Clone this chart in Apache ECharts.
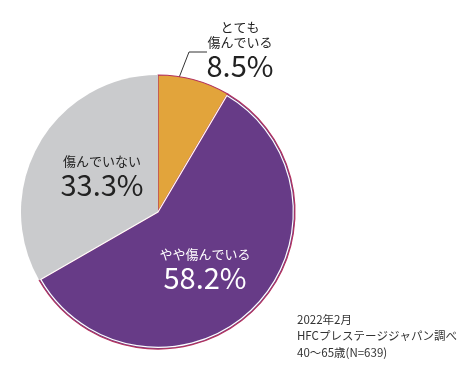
<!DOCTYPE html>
<html>
<head>
<meta charset="utf-8">
<script src="https://cdn.jsdelivr.net/npm/echarts@6/dist/echarts.min.js"></script>
<style>
html,body{margin:0;padding:0;background:#fff;}
#chart{width:465px;height:386px;}
</style>
</head>
<body>
<div id="chart"></div>
<script>
// Data
var categories = ['とても\n傷んでいる', 'やや傷んでいる', '傷んでいない'];
var values = [8.5, 58.2, 33.3];
var noteLines = ['2022年2月', 'HFCプレステージジャパン調べ', '40～65歳(N=639)'];

var colors = ['#E2A43B', '#673B87', '#CACBCD'];
var labelColors = ['#222222', '#ffffff', '#222222'];
var labelPos = [[240, 51], [205, 270], [102, 177]];
var FONT = '"Noto Sans CJK JP", "Noto Sans", sans-serif';

var mainData = categories.map(function (c, i) {
  return {
    name: c,
    value: values[i],
    itemStyle: {
      color: colors[i],
      borderColor: i === 2 ? 'rgba(0,0,0,0)' : '#B3325E',
      borderWidth: i === 2 ? 0 : 1.2
    },
    label: { color: labelColors[i], position: i === 0 ? 'outside' : 'inside' },
    labelLine: { show: i === 0 }
  };
});
var overlayData = categories.map(function (c, i) {
  return {
    name: c,
    value: values[i],
    itemStyle: {
      color: 'rgba(0,0,0,0)',
      borderColor: i === 1 ? '#ffffff' : 'rgba(0,0,0,0)',
      borderWidth: i === 1 ? 1.2 : 0
    }
  };
});

var chart = echarts.init(document.getElementById('chart'), null, { renderer: 'canvas' });
chart.setOption({
  animation: false,
  title: {
    text: noteLines.join('\n'),
    left: 292,
    top: 306,
    textStyle: {
      fontFamily: FONT,
      fontSize: 11.5,
      fontWeight: 'normal',
      color: '#333333',
      lineHeight: 16.5
    }
  },
  series: [
    {
      type: 'pie',
      center: [158, 212],
      radius: [0, 137],
      startAngle: 90,
      clockwise: true,
      data: mainData,
      label: {
        show: true,
        fontFamily: FONT,
        formatter: function (p) { return '{n|' + p.name + '}\n{v|' + p.value + '%}'; },
        rich: {
          n: { fontFamily: FONT, fontSize: 13, lineHeight: 15, align: 'center' },
          v: { fontFamily: FONT, fontSize: 29, lineHeight: 32, align: 'center' }
        }
      },
      labelLine: {
        show: true,
        showAbove: true,
        length: 10,
        length2: 10,
        lineStyle: { color: '#333333', width: 1 }
      },
      labelLayout: function (params) {
        var i = params.dataIndex;
        var out = {
          x: labelPos[i][0],
          y: labelPos[i][1],
          align: 'center',
          verticalAlign: 'middle',
          hideOverlap: false
        };
        if (i === 0) {
          out.labelLinePoints = [[175, 88], [189, 52], [207, 52]];
        }
        return out;
      }
    },
    {
      type: 'pie',
      silent: true,
      center: [158, 212],
      radius: [0, 135.3],
      startAngle: 90,
      clockwise: true,
      data: overlayData,
      label: { show: false },
      labelLine: { show: false }
    }
  ]
});
</script>
</body>
</html>
